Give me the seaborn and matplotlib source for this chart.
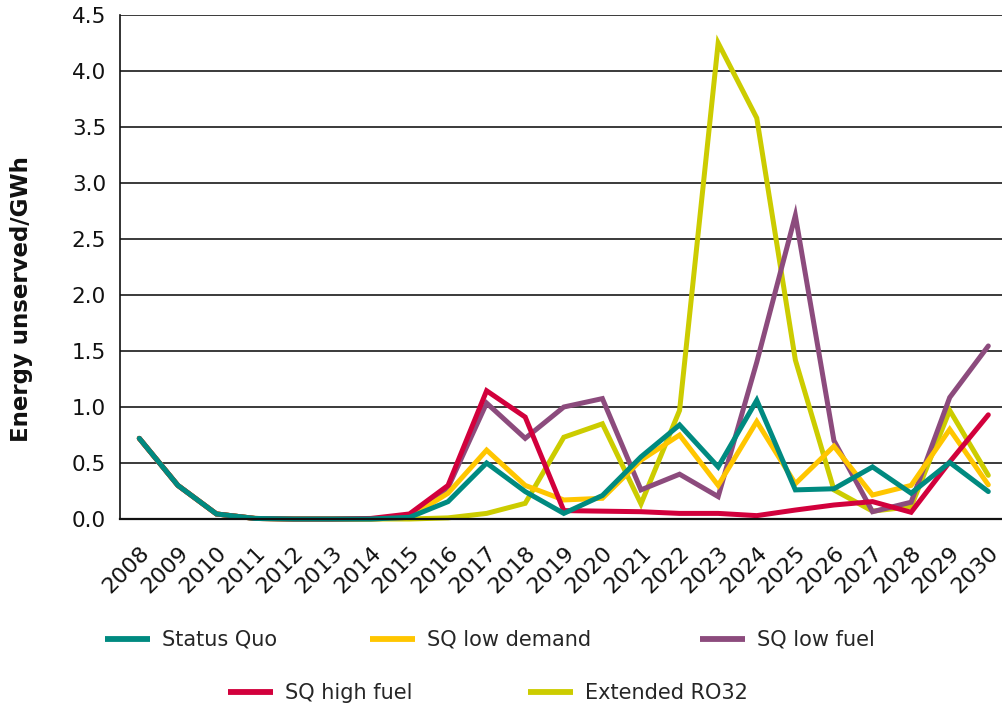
import matplotlib
matplotlib.use("Agg")
import matplotlib.pyplot as plt
import matplotlib.transforms as mtransforms
from matplotlib.lines import Line2D
import seaborn as sns
import pandas as pd
import numpy as np

years = [str(y) for y in range(2008, 2031)]

status_quo = [0.72, 0.30, 0.045, 0.005, 0.0, 0.0, 0.0, 0.015, 0.155, 0.50, 0.245, 0.05,
              0.21, 0.555, 0.84, 0.465, 1.06, 0.26, 0.27, 0.465, 0.23, 0.505, 0.245]
sq_low_demand = [0.72, 0.30, 0.045, 0.005, 0.0, 0.0, 0.0, 0.015, 0.23, 0.615, 0.30, 0.17,
                 0.185, 0.525, 0.75, 0.30, 0.87, 0.315, 0.65, 0.214, 0.30, 0.80, 0.305]
sq_low_fuel = [0.72, 0.30, 0.045, 0.005, 0.0, 0.0, 0.0, 0.015, 0.28, 1.035, 0.72, 1.0,
               1.075, 0.26, 0.40, 0.20, 1.40, 2.71, 0.70, 0.065, 0.15, 1.085, 1.545]
sq_high_fuel = [0.72, 0.30, 0.045, 0.005, 0.0, 0.0, 0.005, 0.045, 0.30, 1.145, 0.91, 0.075,
                0.07, 0.065, 0.05, 0.05, 0.03, 0.08, 0.125, 0.155, 0.06, 0.51, 0.93]
extended_ro32 = [0.72, 0.30, 0.045, 0.005, 0.0, 0.0, 0.0, 0.0, 0.01, 0.05, 0.14, 0.73,
                 0.85, 0.135, 0.97, 4.25, 3.58, 1.42, 0.26, 0.07, 0.11, 0.97, 0.39]

series_names = ["Status Quo", "SQ low demand", "SQ low fuel", "SQ high fuel", "Extended RO32"]
series_values = [status_quo, sq_low_demand, sq_low_fuel, sq_high_fuel, extended_ro32]
series_colors = ["#008a80", "#ffc600", "#8c4b7d", "#d2003c", "#cccc00"]
y_ticks = [0.0, 0.5, 1.0, 1.5, 2.0, 2.5, 3.0, 3.5, 4.0, 4.5]

rows = []
for name, vals in zip(series_names, series_values):
    for i, v in enumerate(vals):
        rows.append({"idx": i, "year": years[i], "value": v, "series": name})
df = pd.DataFrame(rows)

sns.set_style("white")
plt.rcParams["font.family"] = ["DejaVu Sans"]

W, H = 1003, 711
fig = plt.figure(figsize=(W / 100, H / 100), dpi=100)
ax_left, ax_right, ax_top, ax_bottom = 120, 1007.6, 15, 519
ax = fig.add_axes([ax_left / W, 1 - ax_bottom / H, (ax_right - ax_left) / W, (ax_bottom - ax_top) / H])

draw_order = ["Extended RO32", "SQ low fuel", "SQ low demand", "SQ high fuel", "Status Quo"]
palette = dict(zip(series_names, series_colors))
sns.lineplot(data=df, x="idx", y="value", hue="series", hue_order=draw_order,
             palette=palette, linewidth=3.6, legend=False, ax=ax,
             estimator=None, sort=False)
for ln in ax.lines:
    ln.set_solid_joinstyle("miter")
    ln.set_solid_capstyle("round")
    ln.set_clip_on(False)

ax.set_xlim(-0.5, len(years) - 0.5)
ax.set_ylim(0, 4.5)
ax.set_yticks(y_ticks)
ax.set_yticklabels([f"{t:.1f}" for t in y_ticks], fontsize=15.5)
ax.set_xticks(range(len(years)))
ax.set_xticklabels(years, fontsize=16, rotation=45, ha="right", va="top")
ax.set_xticks(np.arange(-0.5, len(years), 1.0), minor=True)

ax.tick_params(axis="y", length=0, pad=10, colors="#111111")
ax.tick_params(axis="x", which="major", length=0, pad=17, colors="#111111")
ax.tick_params(axis="x", which="minor", length=8.6, width=1.2, color="#111111", direction="out")

ax.yaxis.grid(True, color="#3a3a3a", linewidth=1.4)
ax.xaxis.grid(False)
ax.set_axisbelow(True)
for s in ["top", "right"]:
    ax.spines[s].set_visible(False)
ax.spines["left"].set_color("#111111")
ax.spines["left"].set_linewidth(1.2)
ax.spines["bottom"].set_color("#111111")
ax.spines["bottom"].set_linewidth(1.6)

offset = mtransforms.ScaledTranslation(14 / 100, 0, fig.dpi_scale_trans)
for lab in ax.xaxis.get_majorticklabels():
    lab.set_transform(lab.get_transform() + offset)

ax.set_xlabel("")
ax.set_ylabel("Energy unserved/GWh", fontsize=16.5, fontweight="bold", color="#111111")
ax.yaxis.set_label_coords((33 - ax_left) / (ax_right - ax_left), (ax_bottom - 299.5) / (ax_bottom - ax_top))

legend_pos = {
    "Status Quo": (105, 640),
    "SQ low demand": (370, 640),
    "SQ low fuel": (700, 640),
    "SQ high fuel": (228, 693),
    "Extended RO32": (528, 693),
}
fs_leg = 15
px_per_em = fs_leg * 100 / 72
for name in series_names:
    x, y = legend_pos[name]
    h = Line2D([], [], color=palette[name], linewidth=4.2, solid_capstyle="butt")
    fig.legend(handles=[h], labels=[name], loc="center left",
               bbox_to_anchor=(x / W, 1 - y / H), frameon=False,
               borderpad=0, borderaxespad=0, handlelength=45 / px_per_em,
               handletextpad=12 / px_per_em, fontsize=fs_leg)

fig.savefig("out.png", dpi=100)
